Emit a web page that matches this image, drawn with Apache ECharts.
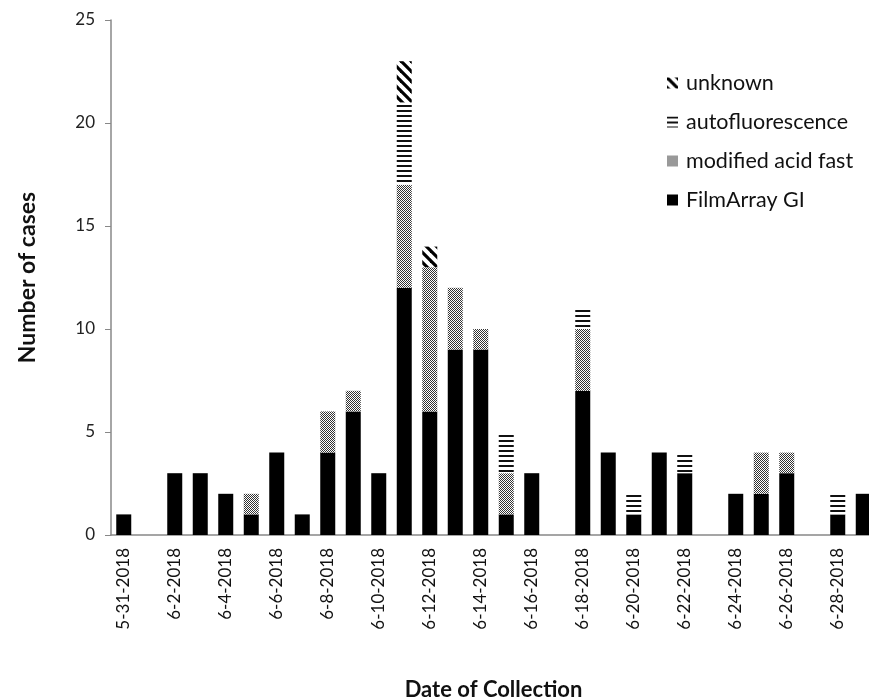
<!DOCTYPE html>
<html>
<head>
<meta charset="utf-8">
<script src="https://cdn.jsdelivr.net/npm/echarts@6/dist/echarts.min.js"></script>
<style>
html,body{margin:0;padding:0;background:#fff;overflow:hidden;width:869px;height:699px;}
#chart{width:876px;height:699px;}
</style>
</head>
<body>
<div id="chart"></div>
<script>
const dates = ['5-31-2018','6-1-2018','6-2-2018','6-3-2018','6-4-2018','6-5-2018','6-6-2018','6-7-2018','6-8-2018','6-9-2018','6-10-2018','6-11-2018','6-12-2018','6-13-2018','6-14-2018','6-15-2018','6-16-2018','6-17-2018','6-18-2018','6-19-2018','6-20-2018','6-21-2018','6-22-2018','6-23-2018','6-24-2018','6-25-2018','6-26-2018','6-27-2018','6-28-2018','6-29-2018'];
const filmArray = [1,0,3,3,2,1,4,1,4,6,3,12,6,9,9,1,3,0,7,4,1,4,3,0,2,2,3,0,1,2];
const modifiedAcidFast = [0,0,0,0,0,1,0,0,2,1,0,5,7,3,1,2,0,0,3,0,0,0,0,0,0,2,1,0,0,0];
const autofluorescence = [0,0,0,0,0,0,0,0,0,0,0,4,0,0,0,2,0,0,1,0,1,0,1,0,0,0,0,0,1,0];
const unknown = [0,0,0,0,0,0,0,0,0,0,0,2,1,0,0,0,0,0,0,0,0,0,0,0,0,0,0,0,0,0];
const yTicks = [0,5,10,15,20,25];

function checker(){
  const c=document.createElement('canvas');c.width=4;c.height=4;
  const g=c.getContext('2d');g.fillStyle='#fff';g.fillRect(0,0,4,4);
  g.fillStyle='#333';
  for(let i=0;i<4;i++)for(let j=0;j<4;j++) if((i+j)%2===0) g.fillRect(i,j,1,1);
  return {image:c,repeat:'repeat'};
}
function hlines(){
  const c=document.createElement('canvas');c.width=4;c.height=5;
  const g=c.getContext('2d');g.fillStyle='#fff';g.fillRect(0,0,4,5);
  g.fillStyle='#111';g.fillRect(0,0,4,2);
  return {image:c,repeat:'repeat'};
}
function diag(){
  const s=10;const c=document.createElement('canvas');c.width=s;c.height=s;
  const g=c.getContext('2d');g.fillStyle='#fff';g.fillRect(0,0,s,s);
  g.strokeStyle='#000';g.lineWidth=3.2;
  g.beginPath();g.moveTo(-2,-2);g.lineTo(s+2,s+2);g.stroke();
  g.beginPath();g.moveTo(-2,s-2);g.lineTo(2,s+2);g.stroke();
  g.beginPath();g.moveTo(s-2,-2);g.lineTo(s+2,2);g.stroke();
  return {image:c,repeat:'repeat'};
}
function z(arr){return arr.map(v=>v===0?'-':v);}

const font='Lato';
const chart=echarts.init(document.getElementById('chart'),null,{renderer:'canvas'});
const barW=15;
chart.setOption({
  animation:false,
  backgroundColor:'#fff',
  textStyle:{fontFamily:font},
  grid:{left:111,right:0,top:20,bottom:164,containLabel:false,outerBoundsMode:'none'},
  legend:{
    orient:'vertical',left:662,top:67,itemGap:17,itemWidth:11,itemHeight:11,
    icon:'rect',
    textStyle:{fontFamily:font,fontSize:21.5,color:'#111',padding:[0,0,0,3]},
    data:['unknown','autofluorescence','modified acid fast','FilmArray GI']
  },
  xAxis:{
    type:'category',data:dates,
    name:'Date of Collection',nameLocation:'middle',nameGap:144,
    nameTextStyle:{fontFamily:font,fontSize:22,fontWeight:'bold',color:'#111'},
    axisLine:{lineStyle:{color:'#888',width:1.5}},
    axisTick:{show:false},
    axisLabel:{interval:1,rotate:90,fontSize:17,color:'#111',margin:13,fontFamily:font}
  },
  yAxis:{
    type:'value',min:0,max:25,interval:5,
    name:'Number of cases',nameLocation:'middle',nameGap:72,
    nameTextStyle:{fontFamily:font,fontSize:23,fontWeight:'bold',color:'#111'},
    axisLine:{show:true,lineStyle:{color:'#888',width:1.5}},
    axisTick:{show:true,length:6,lineStyle:{color:'#888'}},
    splitLine:{show:false},
    axisLabel:{fontSize:17,color:'#222',margin:16,fontFamily:font,
      formatter:v=>yTicks.includes(v)?String(v):''}
  },
  series:[
    {name:'FilmArray GI',type:'bar',stack:'a',barWidth:barW,data:z(filmArray),itemStyle:{color:'#000'}},
    {name:'modified acid fast',type:'bar',stack:'a',barWidth:barW,data:z(modifiedAcidFast),itemStyle:{color:checker()}},
    {name:'autofluorescence',type:'bar',stack:'a',barWidth:barW,data:z(autofluorescence),itemStyle:{color:hlines()}},
    {name:'unknown',type:'bar',stack:'a',barWidth:barW,data:z(unknown),itemStyle:{color:diag()}}
  ]
});
</script>
</body>
</html>
